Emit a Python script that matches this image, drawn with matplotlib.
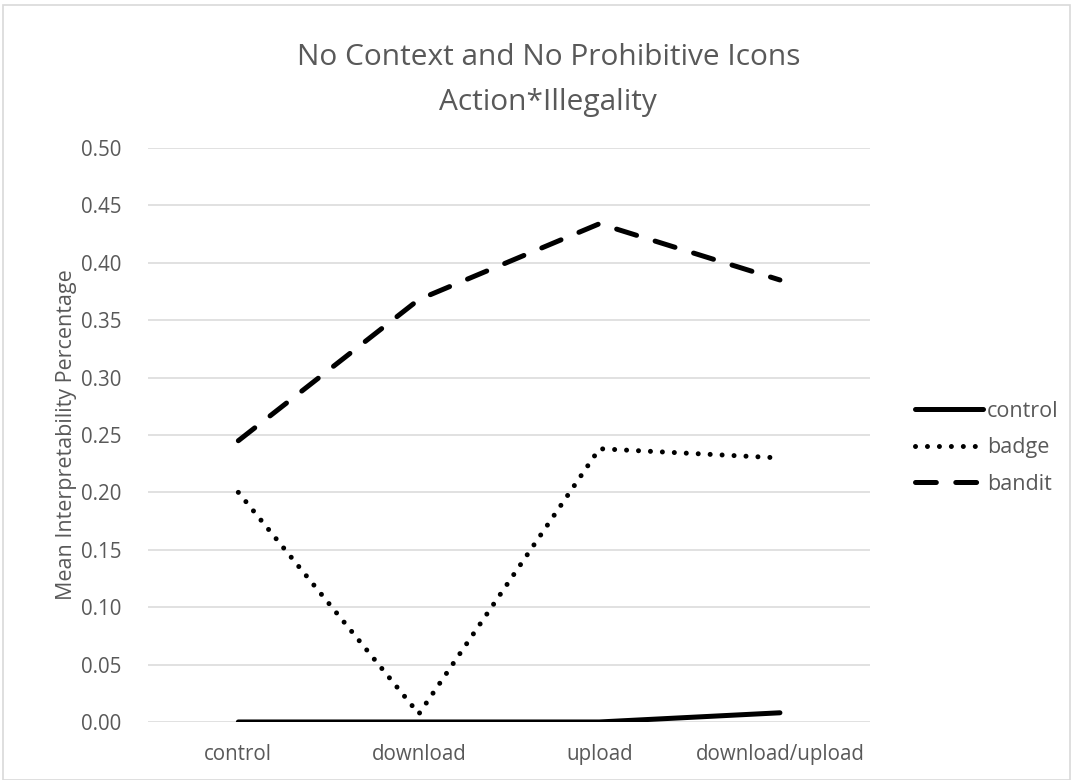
import matplotlib
matplotlib.use("Agg")
import matplotlib.pyplot as plt
from matplotlib.patches import Rectangle

# Mean interpretability by action, one line per illegality icon
actions = ['control', 'download', 'upload', 'download/upload']
control = [0.0, 0.0, 0.0, 0.008]
badge = [0.200, 0.007, 0.238, 0.230]
bandit = [0.245, 0.368, 0.434, 0.385]
yticks = [0.00, 0.05, 0.10, 0.15, 0.20, 0.25, 0.30, 0.35, 0.40, 0.45, 0.50]

plt.rcParams['font.family'] = ['Open Sans', 'DejaVu Sans']
plt.rcParams['lines.scale_dashes'] = False
txt = '#595959'
grid = '#d9d9d9'

fig = plt.figure(figsize=(10.73, 7.80), dpi=100)
ax = fig.add_axes([0.138, 0.0744, 0.673, 0.7359])

x = range(len(actions))
ax.plot(x, control, color='black', lw=3.6, solid_capstyle='round',
        solid_joinstyle='round', label='control')
ax.plot(x, badge, color='black', lw=3.6, dashes=(0.01, 8.6),
        dash_capstyle='round', label='badge')
ax.plot(x, bandit, color='black', lw=3.6, dashes=(15, 14),
        dash_capstyle='round', label='bandit')

ax.set_xlim(-0.5, 3.5)
ax.set_ylim(0, 0.5)
ax.set_yticks(yticks)
ax.set_yticklabels([f'{v:.2f}' for v in yticks])
ax.set_xticks(list(x))
ax.set_xticklabels(actions)
ax.tick_params(length=0, labelsize=14.8, colors=txt)
ax.tick_params(axis='x', pad=16)
ax.tick_params(axis='y', pad=19)
ax.yaxis.grid(True, color=grid, lw=1.1)
ax.set_axisbelow(True)
for s in ax.spines.values():
    s.set_visible(False)

ax.set_ylabel('Mean Interpretability Percentage', fontsize=15.5, color=txt, labelpad=3)

fig.text(0.511, 0.926, 'No Context and No Prohibitive Icons',
         ha='center', va='center', fontsize=21.5, color=txt)
fig.text(0.511, 0.868, 'Action*Illegality',
         ha='center', va='center', fontsize=21.5, color=txt)

leg = ax.legend(loc='center left', bbox_to_anchor=(1.035, 0.478), frameon=False,
                fontsize=15.5, handlelength=3.15, handletextpad=0.2,
                labelspacing=0.72, labelcolor=txt)

fig.patches.append(Rectangle((0.003, 0.0), 0.994, 0.993, transform=fig.transFigure,
                             fill=False, edgecolor=grid, lw=1.2))

fig.savefig('out.png', dpi=100)
